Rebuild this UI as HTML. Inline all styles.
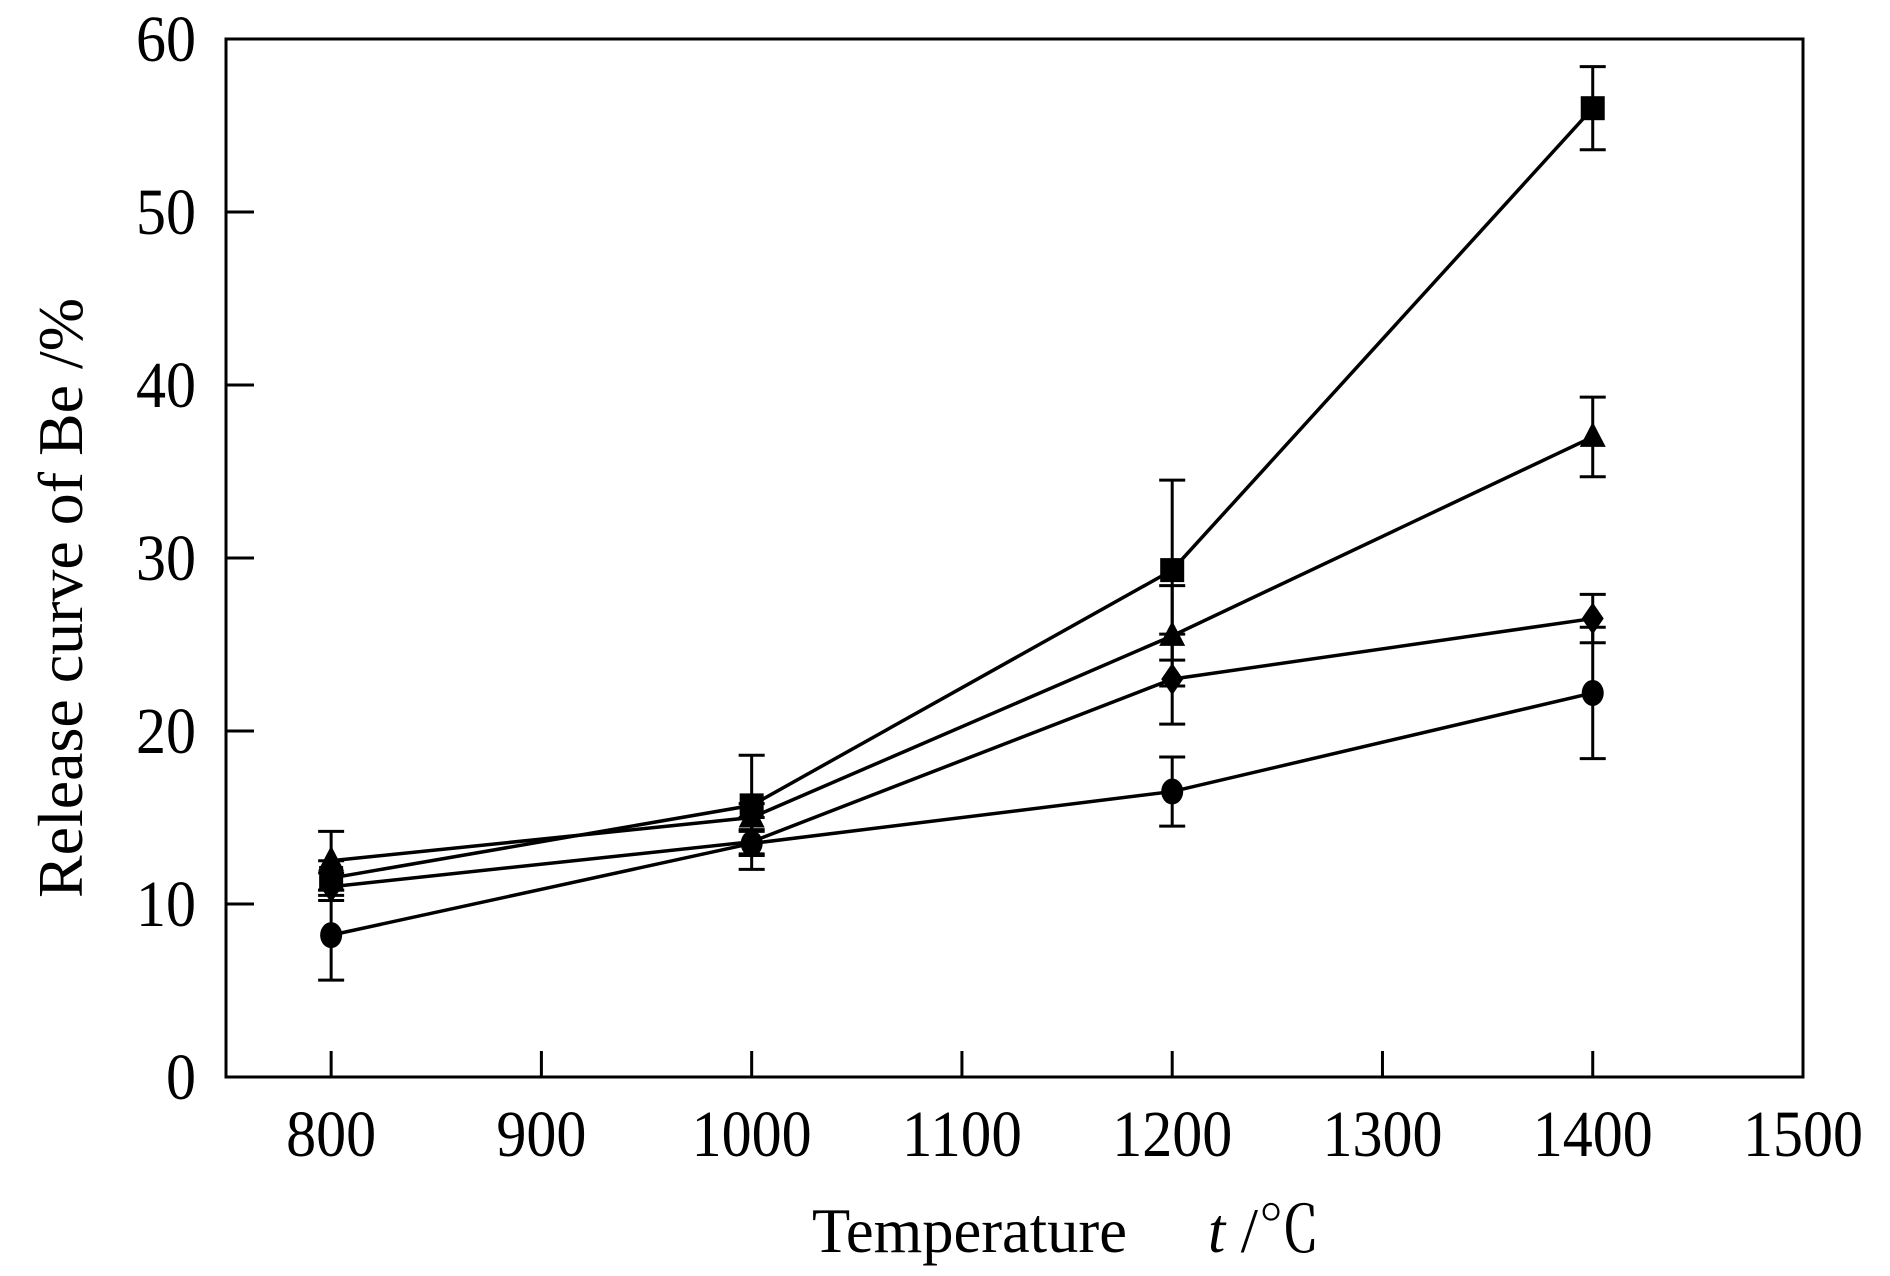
<!DOCTYPE html>
<html><head><meta charset="utf-8"><style>
html,body{margin:0;padding:0;background:#fff;}
svg{display:block;}
text{font-family:"Liberation Serif","Noto Serif CJK SC",serif;fill:#000;}
</style></head><body>
<svg id="chart" width="1890" height="1276" viewBox="0 0 1890 1276" xmlns="http://www.w3.org/2000/svg">
<g id="axes"></g>
<g id="series"></g>
<text x="812" y="1252" font-size="64" textLength="315" lengthAdjust="spacingAndGlyphs">Temperature</text>
<text x="1208" y="1252" font-size="64" textLength="112" lengthAdjust="spacingAndGlyphs"><tspan font-style="italic">t</tspan> /℃</text>
<text transform="translate(82,598) rotate(-90)" text-anchor="middle" font-size="64" textLength="600" lengthAdjust="spacingAndGlyphs">Release curve of Be /%</text>
</svg>
<script>
const xTicks = [800, 900, 1000, 1100, 1200, 1300, 1400, 1500];
const yTicks = [0, 10, 20, 30, 40, 50, 60];
const temps = [800, 1000, 1200, 1400];
const squareVals = [11.5, 15.7, 29.3, 56.0];
const squareErr = [1.0, 2.9, 5.2, 2.4];
const triangleVals = [12.5, 15.0, 25.5, 37.0];
const triangleErr = [1.7, 0.8, 2.9, 2.3];
const diamondVals = [11.0, 13.6, 23.0, 26.5];
const diamondErr = [0.8, 0.7, 2.6, 1.4];
const circleVals = [8.2, 13.5, 16.5, 22.2];
const circleErr = [2.6, 1.5, 2.0, 3.8];

const L=226, R=1803, T=39, B=1077;
const xMin=750, xMax=1500, yMin=0, yMax=60;
const sx = v => L + (v - xMin) / (xMax - xMin) * (R - L);
const sy = v => B - (v - yMin) / (yMax - yMin) * (B - T);
const NS='http://www.w3.org/2000/svg';
function mk(tag, attrs, parent){const e=document.createElementNS(NS,tag);for(const k in attrs)e.setAttribute(k,attrs[k]);parent.appendChild(e);return e;}
const axes=document.getElementById('axes');
const frame=mk('rect',{x:L,y:T,width:R-L,height:B-T,fill:'none',stroke:'#000','stroke-width':3},axes);


xTicks.forEach(v=>{
  const t=mk('line',{x1:sx(v),x2:sx(v),y1:B,y2:B-26,stroke:'#000','stroke-width':3},axes);
  
  
  const l=mk('text',{x:sx(v),y:1156,'text-anchor':'middle','font-size':66,textLength:String(v).length*30,lengthAdjust:'spacingAndGlyphs'},axes);
  l.textContent=v;
  
  
});
yTicks.forEach(v=>{
  const t=mk('line',{x1:L,x2:L+28,y1:sy(v),y2:sy(v),stroke:'#000','stroke-width':3},axes);
  
  
  const l=mk('text',{x:196,y:sy(v)+22,'text-anchor':'end','font-size':66,textLength:String(v).length*30,lengthAdjust:'spacingAndGlyphs'},axes);
  l.textContent=v;
  
  
});
const series=document.getElementById('series');
function marker(shape,x,y,g){
  let e;
  if(shape==='square') e=mk('rect',{x:x-12,y:y-12,width:24,height:24,fill:'#000'},g);
  else if(shape==='triangle') e=mk('polygon',{points:`${x},${y-15} ${x-13},${y+10} ${x+13},${y+10}`,fill:'#000'},g);
  else if(shape==='diamond') e=mk('polygon',{points:`${x},${y-16} ${x+11},${y} ${x},${y+16} ${x-11},${y}`,fill:'#000'},g);
  else e=mk('ellipse',{cx:x,cy:y,rx:11,ry:13,fill:'#000'},g);
  return e;
}
function draw(name,shape,vals,errs){
  const g=mk('g',{},series);
  
  
  const pl=mk('polyline',{points:temps.map((t,i)=>sx(t)+','+sy(vals[i])).join(' '),fill:'none',stroke:'#000','stroke-width':3.5},g);
  
  
  temps.forEach((t,i)=>{
    const x=sx(t),y1=sy(vals[i]+errs[i]),y2=sy(vals[i]-errs[i]);
    const eb=mk('path',{d:`M${x},${y1}V${y2}M${x-13},${y1}H${x+13}M${x-13},${y2}H${x+13}`,stroke:'#000','stroke-width':3,fill:'none'},g);
    
    
  });
  temps.forEach((t,i)=>{
    const m=marker(shape,sx(t),sy(vals[i]),g);
    
    
  });
}
draw('circle','circle',circleVals,circleErr);
draw('diamond','diamond',diamondVals,diamondErr);
draw('triangle','triangle',triangleVals,triangleErr);
draw('square','square',squareVals,squareErr);
</script>
</body></html>
